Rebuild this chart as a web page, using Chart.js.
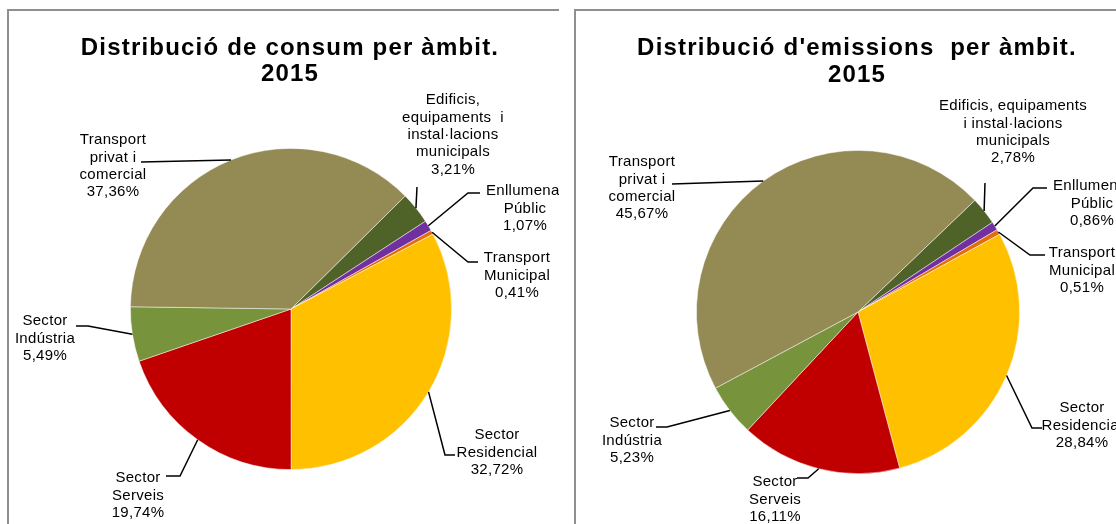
<!DOCTYPE html>
<html>
<head>
<meta charset="utf-8">
<script src="https://cdn.jsdelivr.net/npm/chart.js@4/dist/chart.umd.min.js"></script>
<style>
  html, body { margin:0; padding:0; background:#fff; }
  body { width:1116px; height:524px; position:relative; overflow:hidden; }
  .wrap { position:absolute; overflow:hidden; }
  .ln { position:absolute; background:#8f8f8f; }
</style>
</head>
<body>
<div class="ln" style="left:7px;top:9px;width:2px;height:515px;"></div>
<div class="ln" style="left:7px;top:9px;width:552px;height:2px;"></div>
<div class="ln" style="left:574px;top:9px;width:2px;height:515px;"></div>
<div class="ln" style="left:574px;top:9px;width:542px;height:2px;"></div>
<div class="wrap" style="left:8px;top:9px;width:551px;height:515px;"><canvas id="c1" width="551" height="515"></canvas></div>
<div class="wrap" style="left:575px;top:9px;width:541px;height:515px;"><canvas id="c2" width="541" height="515"></canvas></div>
<script>
// ---- Data ----
const categories = ["Edificis, equipaments i instal·lacions municipals", "Enllumenat Públic", "Transport Municipal", "Sector Residencial", "Sector Serveis", "Sector Indústria", "Transport privat i comercial"];
const consum2015 = [3.21, 1.07, 0.41, 32.72, 19.74, 5.49, 37.36];
const emissions2015 = [2.78, 0.86, 0.51, 28.84, 16.11, 5.23, 45.67];
const sliceColors = ["#4F6228", "#7030A0", "#E46C0A", "#FFC000", "#C00000", "#77933C", "#948A54"];

// ---- Layout (page coordinates) ----
const layout1 = {
  offset:[8,9], title:["Distribució de consum per àmbit.","2015"], titleX:290, titleY:[48,74],
  rotation:45.3, padding:{left:122,right:107,top:139,bottom:54},
  labels:[
    {lines:["Edificis,","equipaments  i","instal·lacions","municipals"], x:453, y:100, path:[[417,187]]},
    {lines:["Enllumenat","Públic"], x:525, y:191, path:[[468,193],[480,193]]},
    {lines:["Transport","Municipal"], x:517, y:258, path:[[468,262],[478,262]]},
    {lines:["Sector","Residencial"], x:497, y:435, path:[[445,455],[455,455]]},
    {lines:["Sector","Serveis"], x:138, y:478, path:[[180,476],[166,476]]},
    {lines:["Sector","Indústria"], x:45, y:321, path:[[88,326],[76,326]]},
    {lines:["Transport","privat i","comercial"], x:113, y:140, path:[[141,162]]}
  ]
};
const layout2 = {
  offset:[575,9], title:["Distribució d'emissions  per àmbit.","2015"], titleX:857, titleY:[48,75],
  rotation:46.3, padding:{left:121,right:96,top:141,bottom:50},
  labels:[
    {lines:["Edificis, equipaments","i instal·lacions","municipals"], x:1013, y:106, path:[[985,183]]},
    {lines:["Enllumenat","Públic"], x:1092, y:186, path:[[1033,188],[1047,188]]},
    {lines:["Transport","Municipal"], x:1082, y:253, path:[[1030,255],[1045,255]]},
    {lines:["Sector","Residencial"], x:1082, y:408, path:[[1032,428],[1042,428]]},
    {lines:["Sector","Serveis"], x:775, y:482, path:[[808,478],[797,478]]},
    {lines:["Sector","Indústria"], x:632, y:423, path:[[667,427],[656,427]]},
    {lines:["Transport","privat i","comercial"], x:642, y:162, path:[[672,184]]}
  ]
};

function fmtPct(v){ return v.toFixed(2).replace('.', ',') + '%'; }

function labelPlugin(lay){
  return {
    id:'pieLabels',
    afterDatasetsDraw(chart){
      const ctx = chart.ctx;
      const ox = lay.offset[0], oy = lay.offset[1];
      const meta = chart.getDatasetMeta(0);
      const values = chart.data.datasets[0].data;
      ctx.save();
      // title
      ctx.fillStyle = '#000';
      ctx.font = 'bold 24px "Liberation Sans", Arial, sans-serif';
      ctx.letterSpacing = '1.2px';
      ctx.textAlign = 'center';
      ctx.textBaseline = 'middle';
      lay.title.forEach((t,i)=> ctx.fillText(t, lay.titleX - ox, lay.titleY[i] - oy));
      // leaders + labels
      ctx.letterSpacing = '0.3px';
      meta.data.forEach((arc, i) => {
        const L = lay.labels[i];
        const p = arc.getProps(['x','y','startAngle','endAngle','outerRadius'], true);
        const mid = (p.startAngle + p.endAngle) / 2;
        const sx = p.x + Math.cos(mid) * p.outerRadius;
        const sy = p.y + Math.sin(mid) * p.outerRadius;
        ctx.beginPath();
        ctx.strokeStyle = '#000';
        ctx.lineWidth = 1.5;
        ctx.moveTo(sx, sy);
        L.path.forEach(pt => ctx.lineTo(pt[0] - ox, pt[1] - oy));
        ctx.stroke();
        ctx.font = '15px "Liberation Sans", Arial, sans-serif';
        ctx.fillStyle = '#000';
        const lines = L.lines.concat([fmtPct(values[i])]);
        lines.forEach((t, k) => ctx.fillText(t, L.x - ox, L.y - oy + k * 17.4));
      });
      ctx.restore();
    }
  };
}

function makeChart(id, values, lay){
  return new Chart(document.getElementById(id), {
    type:'pie',
    data:{ labels:categories, datasets:[{ data:values, backgroundColor:sliceColors, borderColor:'rgba(255,255,255,0.6)', borderWidth:0.8 }] },
    options:{
      responsive:false, animation:false, rotation:lay.rotation,
      layout:{ padding:lay.padding },
      plugins:{ legend:{display:false}, tooltip:{enabled:false}, title:{display:false} }
    },
    plugins:[labelPlugin(lay)]
  });
}
makeChart('c1', consum2015, layout1);
makeChart('c2', emissions2015, layout2);
</script>
</body>
</html>
